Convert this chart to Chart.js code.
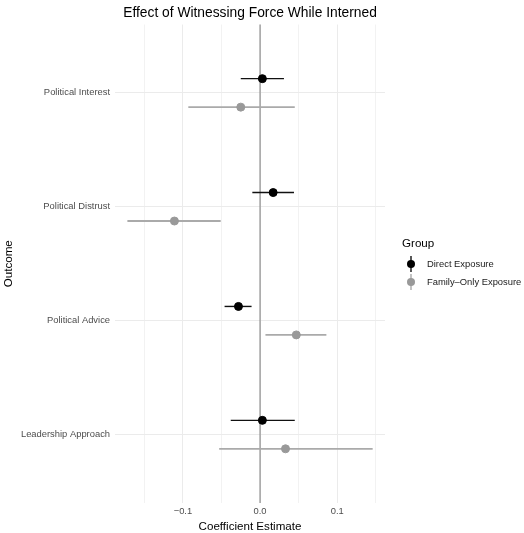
<!DOCTYPE html>
<html lang="en">
<head>
  <meta charset="UTF-8" />
  <title>Effect of Witnessing Force While Interned</title>
  <script src="https://cdn.jsdelivr.net/npm/chart.js"></script>
  <style>
    * { margin: 0; padding: 0; box-sizing: border-box; }
    body { background: #ffffff; }
    #wrap { width: 524px; height: 533px; }
  </style>
</head>
<body>
  <div id="wrap"><canvas id="forestChart" width="524" height="533"></canvas></div>

  <script>
    // data
    const outcomes = ['Political Interest', 'Political Distrust', 'Political Advice', 'Leadership Approach'];
    const groups = ['Direct Exposure', 'Family\u2013Only Exposure'];
    const directEst  = [0.003, 0.017, -0.028, 0.003];
    const directLow  = [-0.025, -0.010, -0.046, -0.038];
    const directHigh = [0.031, 0.044, -0.011, 0.045];
    const familyEst  = [-0.025, -0.111, 0.047, 0.033];
    const familyLow  = [-0.093, -0.172, 0.007, -0.053];
    const familyHigh = [0.045, -0.051, 0.086, 0.146];
    const xTicks = [-0.15, -0.1, -0.05, 0, 0.05, 0.1, 0.15];
    const xLabeled = [-0.1, 0, 0.1];

    const font = "'Liberation Sans', Arial, sans-serif";
    const colors = ['#000000', '#999999'];
    const barColors = ['#111111', '#aaaaaa'];
    const dodge = 0.125;

    function toPoints(est, low, high, shift) {
      return est.map((v, i) => ({ x: v, y: i + 1 + shift, lo: low[i], hi: high[i] }));
    }

    // horizontal CI lines, drawn under the points
    const errorBars = {
      id: 'errorBars',
      beforeDatasetsDraw(chart) {
        const { ctx, scales: { x, y }, chartArea } = chart;
        ctx.save();
        // zero reference line
        ctx.strokeStyle = '#8c8c8c';
        ctx.lineWidth = 1.2;
        ctx.beginPath();
        ctx.moveTo(x.getPixelForValue(0), chartArea.top);
        ctx.lineTo(x.getPixelForValue(0), chartArea.bottom);
        ctx.stroke();
        chart.data.datasets.forEach((ds, di) => {
          ctx.strokeStyle = barColors[di];
          ctx.lineWidth = di === 0 ? 1.4 : 1.8;
          ds.data.forEach(p => {
            const py = y.getPixelForValue(p.y);
            ctx.beginPath();
            ctx.moveTo(x.getPixelForValue(p.lo), py);
            ctx.lineTo(x.getPixelForValue(p.hi), py);
            ctx.stroke();
          });
        });
        ctx.restore();
      }
    };

    const groupLegend = {
      id: 'groupLegend',
      afterDraw(chart) {
        const { ctx } = chart;
        ctx.save();
        ctx.textBaseline = 'middle';
        ctx.textAlign = 'left';
        ctx.fillStyle = '#000000';
        ctx.font = '11.6px ' + font;
        ctx.fillText('Group', 402, 244);
        groups.forEach((g, i) => {
          const cy = 264 + i * 18;
          ctx.strokeStyle = barColors[i];
          ctx.lineWidth = 1.4;
          ctx.beginPath();
          ctx.moveTo(411, cy - 8);
          ctx.lineTo(411, cy + 8);
          ctx.stroke();
          ctx.fillStyle = colors[i];
          ctx.beginPath();
          ctx.arc(411, cy, 4, 0, Math.PI * 2);
          ctx.fill();
          ctx.fillStyle = '#1a1a1a';
          ctx.font = '9.4px ' + font;
          ctx.fillText(g, 427, cy);
        });
        ctx.restore();
      }
    };

    new Chart(document.getElementById('forestChart'), {
      type: 'scatter',
      data: {
        datasets: [
          {
            label: groups[0],
            data: toPoints(directEst, directLow, directHigh, -dodge),
            backgroundColor: colors[0],
            borderColor: colors[0],
            pointRadius: 4,
            pointHoverRadius: 4
          },
          {
            label: groups[1],
            data: toPoints(familyEst, familyLow, familyHigh, dodge),
            backgroundColor: colors[1],
            borderColor: colors[1],
            pointRadius: 4,
            pointHoverRadius: 4
          }
        ]
      },
      options: {
        responsive: false,
        animation: false,
        layout: { padding: { left: 0, right: 139, top: 0, bottom: 0 } },
        plugins: {
          legend: { display: false },
          tooltip: { enabled: false },
          title: {
            display: true,
            fullSize: false,
            text: 'Effect of Witnessing Force While Interned',
            color: '#000000',
            font: { family: font, size: 13.8, weight: 'normal', lineHeight: 1.2 },
            padding: { top: 5, bottom: 3 }
          }
        },
        scales: {
          x: {
            type: 'linear',
            min: -0.188,
            max: 0.162,
            afterBuildTicks: axis => { axis.ticks = xTicks.map(v => ({ value: v })); },
            border: { display: false },
            grid: {
              drawTicks: false,
              color: ctx => xLabeled.some(v => Math.abs(v - ctx.tick.value) < 1e-9) ? '#ebebeb' : '#f2f2f2'
            },
            ticks: {
              padding: 3,
              color: '#4d4d4d',
              font: { family: font, size: 9.4, lineHeight: 1.1 },
              callback: v => {
                if (!xLabeled.some(t => Math.abs(t - v) < 1e-9)) return '';
                return v < 0 ? '\u2212' + Math.abs(v).toFixed(1) : v.toFixed(1);
              }
            },
            title: {
              display: true,
              text: 'Coefficient Estimate',
              color: '#000000',
              font: { family: font, size: 11.6, lineHeight: 1.1 },
              padding: { top: 1, bottom: 0 }
            }
          },
          y: {
            type: 'linear',
            reverse: true,
            min: 0.4,
            max: 4.6,
            afterBuildTicks: axis => { axis.ticks = outcomes.map((o, i) => ({ value: i + 1 })); },
            border: { display: false },
            grid: { drawTicks: false, color: '#ebebeb' },
            ticks: {
              padding: 5,
              color: '#4d4d4d',
              font: { family: font, size: 9.4 },
              callback: v => outcomes[Math.round(v) - 1] || ''
            },
            title: {
              display: true,
              text: 'Outcome',
              color: '#000000',
              font: { family: font, size: 11.6 },
              padding: { top: 2, bottom: 0 }
            }
          }
        }
      },
      plugins: [errorBars, groupLegend]
    });
  </script>
</body>
</html>
